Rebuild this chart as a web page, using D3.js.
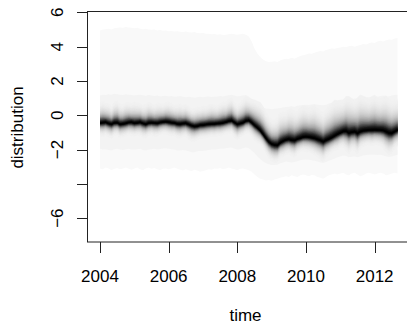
<!DOCTYPE html>
<html><head><meta charset="utf-8">
<script src="https://cdn.jsdelivr.net/npm/d3@7"></script>
<style>html,body{margin:0;padding:0;background:#fff;overflow:hidden}svg{display:block}text{font-family:"Liberation Sans",Arial,sans-serif;fill:#000}</style>
</head><body><svg id="c" width="407" height="325"></svg>
<script>
// Monthly observations, Jan 2004 onward
const startYear = 2004;
const median = [-0.45,-0.43,-0.41,-0.48,-0.52,-0.44,-0.43,-0.52,-0.50,-0.47,-0.42,-0.41,
 -0.46,-0.44,-0.41,-0.47,-0.52,-0.45,-0.43,-0.45,-0.47,-0.42,-0.39,-0.37,
 -0.40,-0.43,-0.45,-0.50,-0.51,-0.48,-0.47,-0.53,-0.60,-0.65,-0.63,-0.58,
 -0.57,-0.54,-0.52,-0.51,-0.50,-0.48,-0.47,-0.44,-0.40,-0.34,-0.31,-0.42,
 -0.52,-0.48,-0.43,-0.33,-0.30,-0.42,-0.58,-0.72,-0.88,-1.10,-1.34,-1.55,
 -1.68,-1.73,-1.75,-1.60,-1.50,-1.43,-1.40,-1.45,-1.47,-1.38,-1.33,-1.27,
 -1.25,-1.27,-1.30,-1.34,-1.40,-1.46,-1.54,-1.45,-1.38,-1.30,-1.20,-1.10,
 -1.02,-0.94,-0.92,-1.03,-0.98,-0.95,-1.05,-0.95,-0.90,-0.88,-0.86,-0.86,
 -0.85,-0.86,-0.86,-0.88,-0.95,-1.03,-1.04,-0.95,-0.86];
const spreadUp = [0.40,0.42,0.38,0.40,0.36,0.42,0.44,0.40,0.38,0.42,0.40,0.38,
 0.42,0.40,0.38,0.36,0.40,0.42,0.38,0.36,0.40,0.38,0.36,0.38,
 0.40,0.38,0.36,0.38,0.40,0.36,0.38,0.36,0.34,0.36,0.38,0.36,
 0.38,0.36,0.38,0.40,0.38,0.36,0.40,0.42,0.40,0.44,0.46,0.40,
 0.38,0.42,0.46,0.48,0.44,0.46,0.50,0.52,0.55,0.55,0.52,0.50,
 0.48,0.50,0.55,0.60,0.58,0.55,0.60,0.62,0.58,0.55,0.60,0.62,
 0.60,0.58,0.62,0.65,0.62,0.60,0.58,0.62,0.65,0.68,0.70,0.66,
 0.64,0.62,0.68,0.72,0.66,0.62,0.70,0.72,0.68,0.65,0.62,0.66,
 0.68,0.64,0.62,0.66,0.70,0.68,0.64,0.62,0.60];
const spreadDown = [0.26,0.28,0.26,0.27,0.29,0.26,0.25,0.28,0.27,0.26,0.25,0.27,
 0.26,0.25,0.27,0.29,0.28,0.26,0.25,0.27,0.26,0.25,0.24,0.25,
 0.26,0.27,0.26,0.28,0.29,0.27,0.26,0.30,0.32,0.30,0.28,0.27,
 0.26,0.27,0.26,0.25,0.26,0.25,0.26,0.25,0.24,0.25,0.26,0.30,
 0.32,0.28,0.26,0.25,0.26,0.28,0.30,0.30,0.28,0.28,0.30,0.32,
 0.34,0.36,0.34,0.30,0.32,0.30,0.30,0.32,0.34,0.30,0.28,0.28,
 0.30,0.30,0.32,0.34,0.36,0.38,0.40,0.34,0.32,0.30,0.30,0.32,
 0.30,0.32,0.40,0.42,0.36,0.38,0.42,0.34,0.32,0.30,0.30,0.32,
 0.30,0.30,0.32,0.36,0.42,0.44,0.40,0.34,0.32];
const innerHi = [1.15,1.2,1.18,1.22,1.2,1.25,1.22,1.2,1.18,1.22,1.2,1.18,
 1.15,1.18,1.2,1.16,1.14,1.18,1.15,1.12,1.15,1.1,1.12,1.14,
 1.1,1.12,1.08,1.1,1.12,1.08,1.05,1.08,1.05,1.02,1.05,1.08,
 1.05,1.08,1.1,1.06,1.08,1.1,1.12,1.1,1.14,1.16,1.2,1.15,
 1.1,1.12,1.15,1.18,1.1,0.95,0.8,0.65,0.55,0.45,0.4,0.38,
 0.35,0.38,0.4,0.42,0.45,0.48,0.5,0.52,0.5,0.55,0.58,0.6,
 0.62,0.6,0.63,0.65,0.62,0.6,0.58,0.62,0.68,0.72,0.75,0.8,
 0.85,0.9,0.92,0.9,0.95,0.98,0.95,1.0,1.02,1.05,1.05,1.08,
 1.1,1.08,1.12,1.15,1.12,1.1,1.15,1.18,1.2];
const innerLo = [-1.95,-2.0,-1.98,-2.02,-2.05,-1.98,-1.95,-2.0,-2.02,-1.98,-1.95,-2.0,
 -2.0,-1.98,-1.95,-2.02,-2.05,-2.0,-1.98,-1.95,-2.0,-1.97,-1.94,-1.92,
 -1.95,-1.98,-2.0,-2.05,-2.05,-2.02,-2.05,-2.1,-2.15,-2.15,-2.1,-2.08,
 -2.08,-2.05,-2.02,-2.0,-2.0,-1.98,-1.95,-1.95,-1.92,-1.9,-1.88,-1.95,
 -2.0,-1.98,-1.92,-1.88,-1.92,-2.05,-2.2,-2.4,-2.55,-2.7,-2.8,-2.85,
 -2.9,-2.9,-2.88,-2.8,-2.75,-2.7,-2.72,-2.75,-2.72,-2.68,-2.62,-2.6,
 -2.58,-2.6,-2.62,-2.65,-2.7,-2.75,-2.78,-2.72,-2.65,-2.6,-2.52,-2.45,
 -2.4,-2.35,-2.38,-2.45,-2.42,-2.4,-2.45,-2.4,-2.35,-2.32,-2.3,-2.3,
 -2.3,-2.32,-2.3,-2.35,-2.4,-2.42,-2.4,-2.35,-2.3];
const outerHi = [4.95,5.0,5.02,5.05,5.0,5.08,5.1,5.12,5.1,5.15,5.12,5.1,
 5.08,5.1,5.05,5.02,5.05,5.0,4.98,5.0,4.95,4.97,4.93,4.95,
 4.9,4.92,4.88,4.9,4.87,4.85,4.88,4.84,4.82,4.85,4.8,4.78,
 4.8,4.76,4.75,4.72,4.74,4.7,4.72,4.68,4.7,4.72,4.75,4.72,
 4.7,4.72,4.75,4.7,4.6,4.3,3.9,3.6,3.4,3.25,3.15,3.1,
 3.12,3.15,3.1,3.2,3.25,3.3,3.28,3.35,3.3,3.38,3.45,3.5,
 3.55,3.6,3.58,3.65,3.7,3.75,3.72,3.8,3.85,3.9,3.88,3.92,
 3.95,4.0,3.98,4.02,4.05,4.0,4.05,4.1,4.15,4.12,4.2,4.25,
 4.22,4.3,4.35,4.3,4.38,4.42,4.4,4.48,4.5];
const outerLo = [-3.1,-3.15,-3.05,-3.1,-3.2,-3.12,-3.08,-3.15,-3.1,-3.05,-3.12,-3.18,
 -3.1,-3.05,-3.15,-3.2,-3.1,-3.05,-3.12,-3.08,-3.15,-3.2,-3.12,-3.1,
 -3.15,-3.1,-3.05,-3.12,-3.18,-3.22,-3.15,-3.2,-3.25,-3.18,-3.22,-3.3,
 -3.25,-3.2,-3.15,-3.18,-3.1,-3.12,-3.08,-3.15,-3.1,-3.05,-3.1,-3.15,
 -3.2,-3.12,-3.1,-3.15,-3.2,-3.3,-3.45,-3.6,-3.7,-3.75,-3.8,-3.78,
 -3.82,-3.75,-3.7,-3.65,-3.6,-3.55,-3.6,-3.5,-3.55,-3.6,-3.5,-3.45,
 -3.5,-3.55,-3.48,-3.5,-3.6,-3.65,-3.7,-3.6,-3.5,-3.45,-3.4,-3.45,
 -3.4,-3.35,-3.45,-3.5,-3.4,-3.35,-3.45,-3.55,-3.5,-3.4,-3.35,-3.4,
 -3.45,-3.4,-3.35,-3.4,-3.5,-3.45,-3.4,-3.35,-3.4];
const xTicks = [2004,2006,2008,2010,2012];
const yTicks = [-6,-4,-2,0,2,4,6];
const yTickLabels = ["\u22126","","\u22122","0","2","4","6"];
const xTitle = "time", yTitle = "distribution";

const svg = d3.select("#c");
const L = 88, R = 410, T = 11, B = 242;
const x = d3.scaleLinear().domain([2003.65, 2003.65 + (R - L) / 34.33]).range([L, R]);
const y = d3.scaleLinear().domain([-7.39, 6.08]).range([B, T]);

const data = median.map((m, i) => ({
  t: startYear + i / 12, m, su: spreadUp[i], sl: spreadDown[i],
  ih: innerHi[i], il: innerLo[i], oh: outerHi[i], ol: outerLo[i]
}));

const g = svg.append("g");
g.append("path").datum(data).attr("fill", "#f9f9f9")
  .attr("d", d3.area().x(d => x(d.t)).y0(d => y(d.ol)).y1(d => y(d.oh)));
g.append("path").datum(data).attr("fill", "#f3f3f3")
  .attr("d", d3.area().x(d => x(d.t)).y0(d => y(d.il)).y1(d => y(d.ih)));

const K = 40, zMax = 3;
for (let k = K; k >= 1; k--) {
  const z = zMax * k / K;
  const dark = 0.55 * Math.exp(-z * z * 2.2) + 0.45 * Math.exp(-z * z / 2);
  const v = Math.round(243 * (1 - dark));
  g.append("path").datum(data).attr("fill", `rgb(${v},${v},${v})`)
    .attr("d", d3.area().x(d => x(d.t)).y0(d => y(d.m - d.sl * z)).y1(d => y(d.m + d.su * z)));
}
g.append("path").datum(data).attr("fill", "none").attr("stroke", "#000").attr("stroke-width", 1.2)
  .attr("d", d3.line().x(d => x(d.t)).y(d => y(d.m)));

// frame
const ax = svg.append("g").attr("stroke", "#222").attr("stroke-width", 1).attr("fill", "none");
ax.append("rect").attr("x", L - 0.5).attr("y", T + 0.5).attr("width", R - L + 5).attr("height", B - T - 0.5);

// y axis
yTicks.forEach((v, i) => {
  const yy = Math.round(y(v)) + 0.5;
  ax.append("line").attr("x1", L - 11).attr("x2", L - 0.5).attr("y1", yy).attr("y2", yy);
  if (yTickLabels[i]) svg.append("text").attr("transform", `translate(63,${y(v)}) rotate(-90)`)
    .attr("text-anchor", "middle").attr("font-size", 17).text(yTickLabels[i]);
});
// x axis
xTicks.forEach(v => {
  const xx = Math.round(x(v)) + 0.5;
  ax.append("line").attr("x1", xx).attr("x2", xx).attr("y1", B).attr("y2", B + 11);
  svg.append("text").attr("x", x(v)).attr("y", 281.5).attr("text-anchor", "middle")
    .attr("font-size", 17).text(v);
});
svg.append("text").attr("x", (L + 407) / 2 - 2).attr("y", 321).attr("text-anchor", "middle")
  .attr("font-size", 17).text(xTitle);
svg.append("text").attr("transform", `translate(22.5,${127.5}) rotate(-90)`)
  .attr("text-anchor", "middle").attr("font-size", 17).text(yTitle);
</script></body></html>
